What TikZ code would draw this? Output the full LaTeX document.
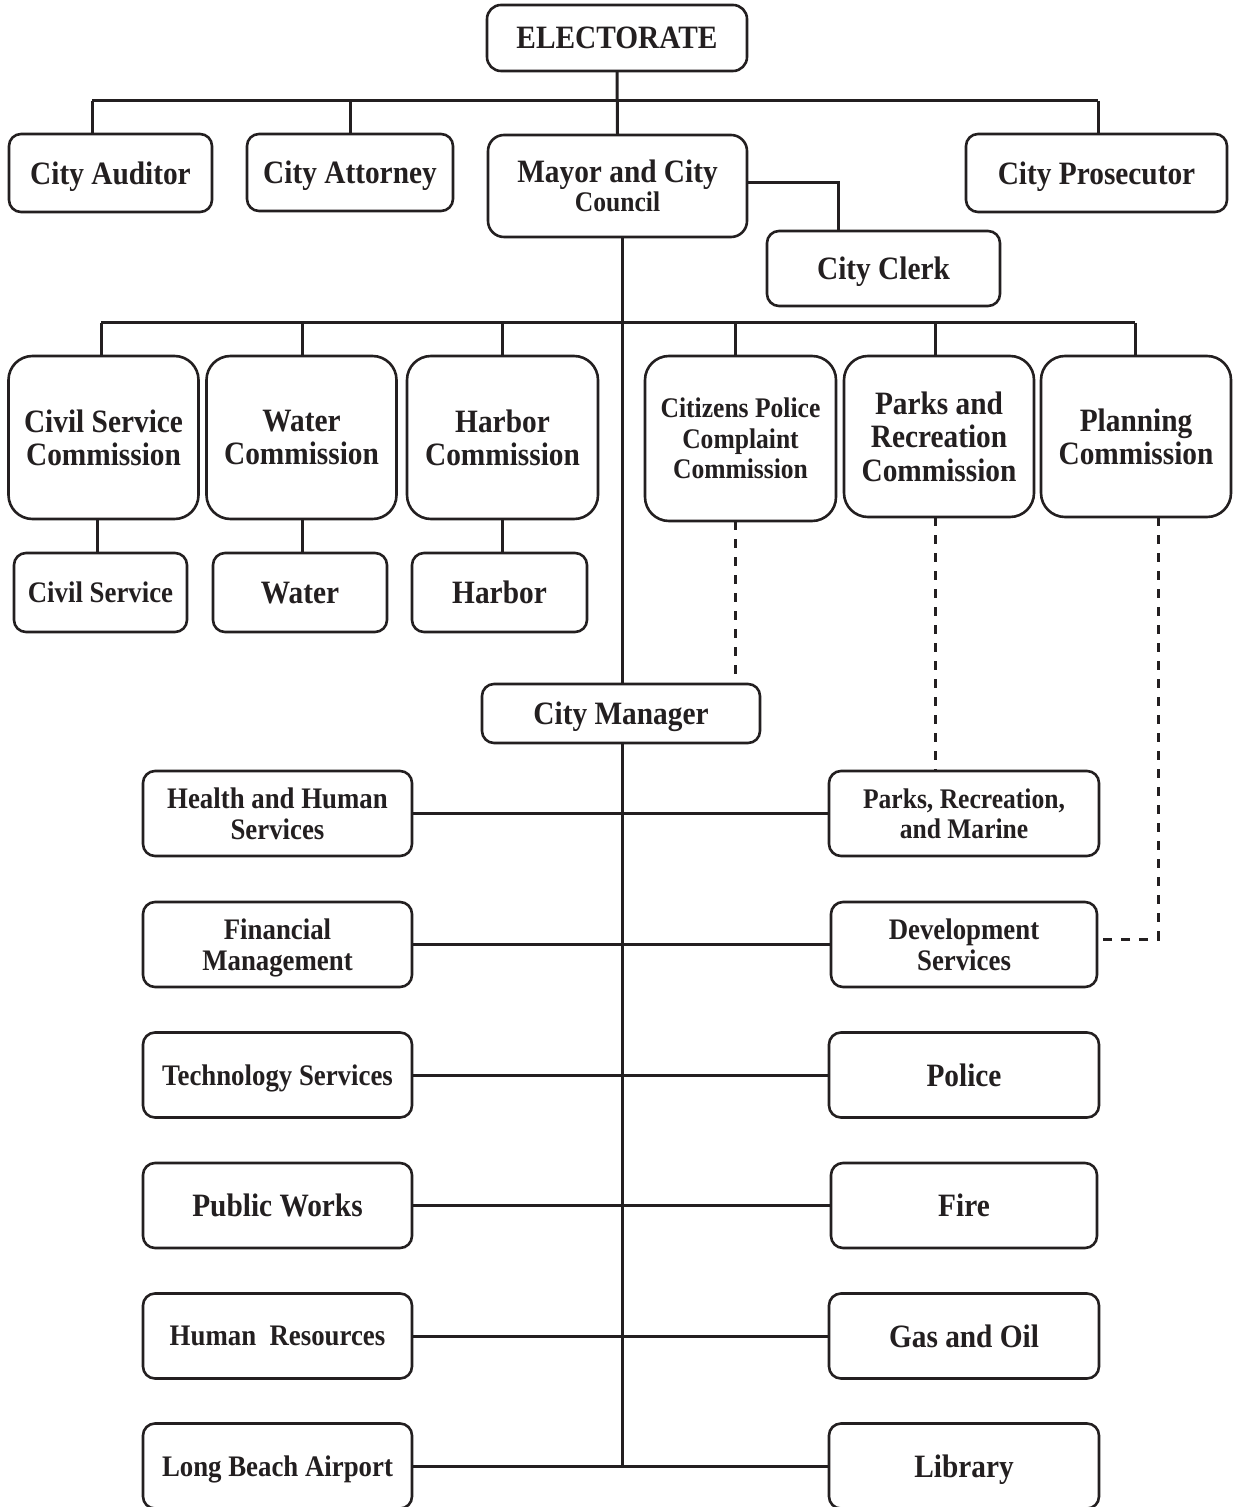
\documentclass[tikz,border=0pt]{standalone}
\usepackage{fontspec}
\setmainfont{Liberation Serif}[FakeStretch=0.9]
\usetikzlibrary{calc}
\definecolor{ink}{HTML}{231F20}
\newcommand{\fsA}{\fontsize{16.3}{16.6}\selectfont}
\newcommand{\fsB}{\fontsize{14.9}{15.5}\selectfont}
\newcommand{\fsC}{\fontsize{14.2}{15.2}\selectfont}
\begin{document}
\begin{tikzpicture}[x=0.5pt,y=-0.5pt,
  box/.style={draw=ink, line width=1.3pt, rounded corners=6pt, fill=white, align=center,
    text=ink, inner sep=0pt, outer sep=0pt, text depth=0pt},
  boxA/.style={box, font=\bfseries\fsA},
  boxB/.style={box, font=\bfseries\fsB},
  comm/.style={box, rounded corners=12pt, minimum width=95pt, minimum height=81.5pt},
  lcol/.style={minimum width=134.5pt, minimum height=42.5pt},
  rcol/.style={minimum width=135pt, minimum height=42.5pt},
  conn/.style={draw=ink, line width=1.5pt},
  dconn/.style={conn, dash pattern=on 4.5pt off 4.5pt}]
\useasboundingbox (0,0) rectangle (1232,1507);

% top level
\node[boxA, minimum width=130pt, minimum height=33pt, rounded corners=7pt] (elect) at (617,38) {ELECTORATE};
\node[boxA, minimum width=101.5pt, minimum height=39pt] (aud) at (110.5,173) {City Auditor};
\node[boxA, minimum width=103pt, minimum height=38.5pt] (att) at (350,172.5) {City Attorney};
\node[box, minimum width=129.5pt, minimum height=51pt, rounded corners=8pt] (mayor) at (617.5,186)
  {{\bfseries\fsA Mayor and City}\\{\bfseries\fsC Council}};
\node[boxA, minimum width=130.5pt, minimum height=39pt] (pros) at (1096.5,173) {City Prosecutor};
\node[boxA, minimum width=116.5pt, minimum height=37.5pt] (clerk) at (883.5,268.5) {City Clerk};

% commissions
\node[comm, font=\bfseries\fsA] (csc) at (103.5,437.5) {Civil Service\\Commission};
\node[comm, font=\bfseries\fsA] (wc) at (301.5,437.5) {Water\\Commission};
\node[comm, font=\bfseries\fsA, minimum width=95.5pt] (hc) at (502.5,437.5) {Harbor\\Commission};
\node[comm, font=\bfseries\fsC, minimum width=95.5pt, minimum height=82.5pt] (cpcc) at (740.5,438.5) {Citizens Police\\Complaint\\Commission};
\node[comm, font=\bfseries\fsA, minimum height=80.5pt] (prc) at (939,436.5) {Parks and\\Recreation\\Commission};
\node[comm, font=\bfseries\fsA, minimum height=80.5pt] (pc) at (1136,436.5) {Planning\\Commission};

% departments under commissions
\node[boxB, minimum width=86.5pt, minimum height=39.5pt] (cs) at (100.5,592.5) {Civil Service};
\node[boxA, minimum width=87pt, minimum height=39.5pt] (water) at (300,592.5) {Water};
\node[boxA, minimum width=87.5pt, minimum height=39.5pt] (harbor) at (499.5,592.5) {Harbor};

% city manager
\node[boxA, minimum width=139pt, minimum height=29.5pt] (mgr) at (621,713.5) {City Manager};

% left column
\node[boxB, lcol] (hhs) at (277.5,813.5) {Health and Human\\Services};
\node[boxB, lcol] (fin) at (277.5,944.5) {Financial\\Management};
\node[boxB, lcol] (tech) at (277.5,1075) {Technology Services};
\node[boxA, lcol] (pw) at (277.5,1205.5) {Public Works};
\node[boxB, lcol] (hr) at (277.5,1336) {Human\ \ Resources};
\node[boxB, lcol] (lba) at (277.5,1466) {Long Beach Airport};

% right column
\node[box, rcol, font=\bfseries\fsC] (prm) at (964,813.5) {Parks, Recreation,\\and Marine};
\node[boxB, rcol, minimum width=133pt] (dev) at (964,944.5) {Development\\Services};
\node[boxA, rcol] (pol) at (964,1075) {Police};
\node[boxA, rcol, minimum width=133pt] (fire) at (964,1205.5) {Fire};
\node[boxA, rcol] (gas) at (964,1336) {Gas and Oil};
\node[boxA, rcol] (lib) at (964,1466) {Library};

% connectors: top bus
\coordinate (b1l) at (92,101);
\coordinate (b1r) at (1098,101);
\draw[conn] (elect.south) -- (mayor.north);
\draw[conn] (b1l) -- (b1r);
\draw[conn] (b1l) -- (b1l |- aud.north);
\draw[conn] (att.north |- b1l) -- (att.north);
\draw[conn] (b1r) -- (b1r |- pros.north);
\coordinate (ck) at (838,183);
\draw[conn] (mayor.east |- ck) -- (ck) -- (ck |- clerk.north);

% main spine
\coordinate (mend) at (622,1465);
\draw[conn] (mend |- mayor.south) -- (mend |- mgr.north);
\draw[conn] (mend |- mgr.south) -- (mend);

% commission bus
\coordinate (b2l) at (101,323);
\coordinate (b2r) at (1135,323);
\draw[conn] (b2l) -- (b2r);
\draw[conn] (b2l) -- (b2l |- csc.north);
\coordinate (s2) at (302,323);
\draw[conn] (s2) -- (s2 |- wc.north);
\coordinate (s3) at (502,323);
\draw[conn] (s3) -- (s3 |- hc.north);
\coordinate (s4) at (735,323);
\draw[conn] (s4) -- (s4 |- cpcc.north);
\coordinate (s5) at (935,323);
\draw[conn] (s5) -- (s5 |- prc.north);
\draw[conn] (b2r) -- (b2r |- pc.north);

% commission to department
\coordinate (d1) at (97,519);
\draw[conn] (d1 |- csc.south) -- (d1 |- cs.north);
\draw[conn] (s2 |- wc.south) -- (s2 |- water.north);
\draw[conn] (s3 |- hc.south) -- (s3 |- harbor.north);

% dashed links
\draw[dconn] (s4 |- cpcc.south) -- (s4 |- mgr.north);
\draw[dconn] (s5 |- prc.south) -- (s5 |- prm.north);
\coordinate (pd) at (1158,939);
\draw[dconn] (pd |- pc.south) -- (pd) -- (dev.east |- pd);

% rows
\draw[conn] (hhs.east) -- (prm.west);
\draw[conn] (fin.east) -- (dev.west);
\draw[conn] (tech.east) -- (pol.west);
\draw[conn] (pw.east) -- (fire.west);
\draw[conn] (hr.east) -- (gas.west);
\draw[conn] (lba.east) -- (lib.west);
\end{tikzpicture}
\end{document}
